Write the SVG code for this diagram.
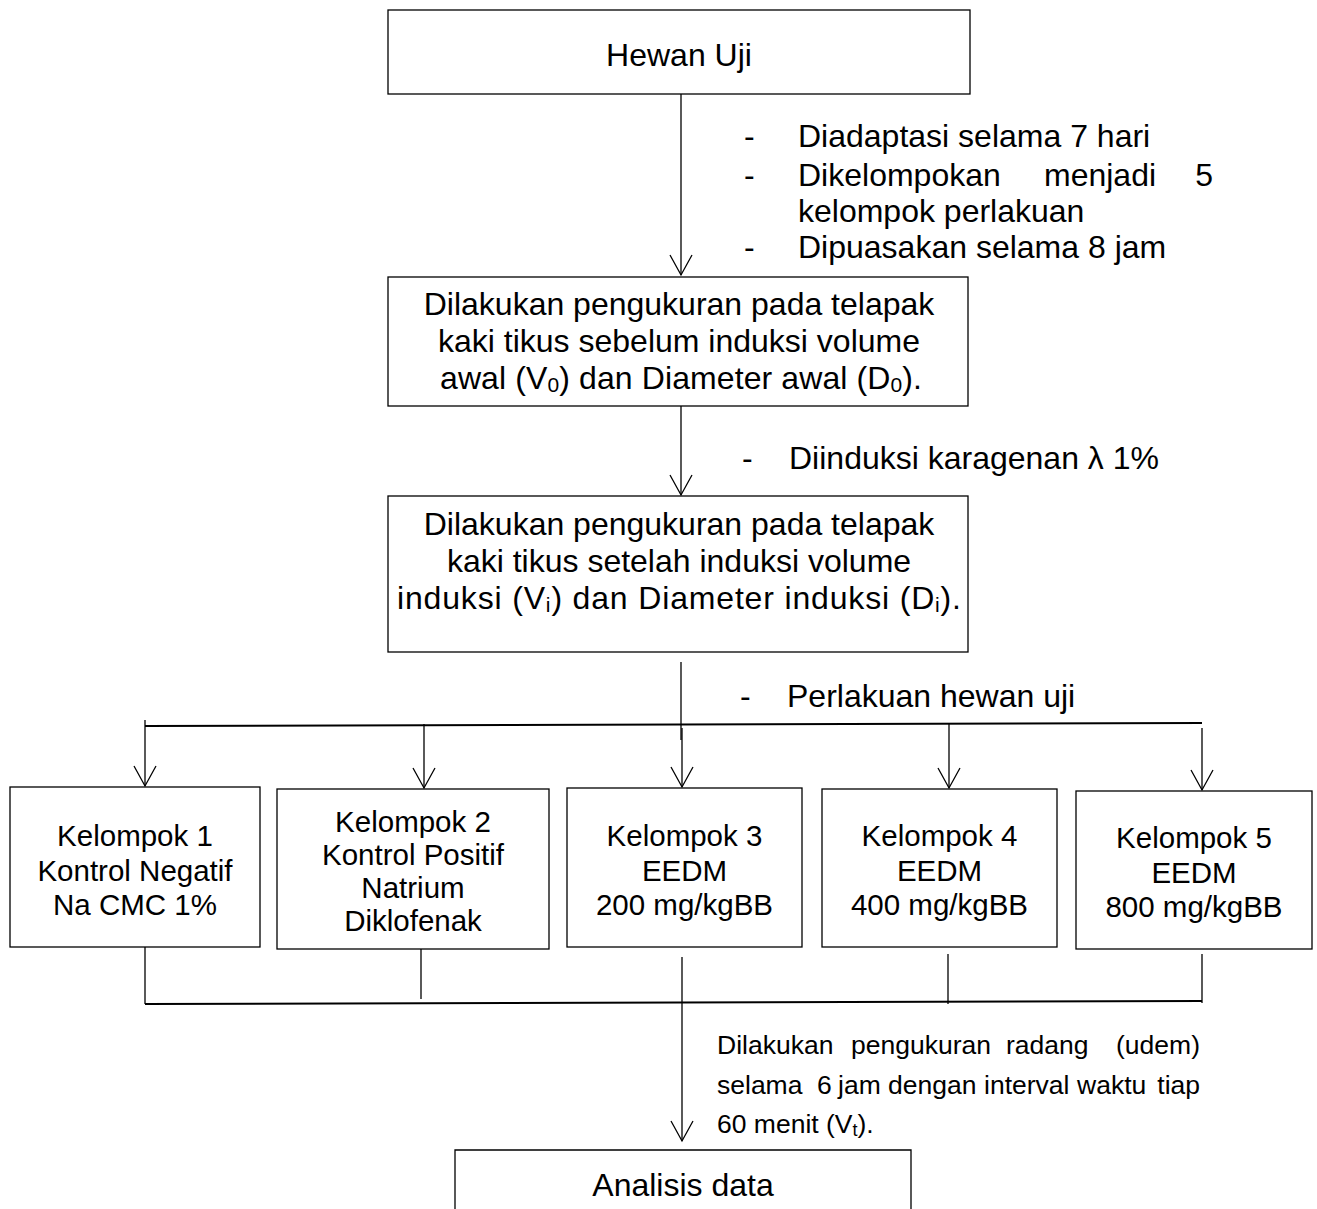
<svg xmlns="http://www.w3.org/2000/svg" width="1317" height="1209" viewBox="0 0 1317 1209">
<style>
  text { font-family: "Liberation Sans", Arial, sans-serif; fill: #000; }
  .t { font-size: 32px; }
  .g { font-size: 29.5px; }
  .p { font-size: 26.5px; }
  .c { text-anchor: middle; }
  .box { fill: #fff; stroke: #000; stroke-width: 1.3; }
  .ln { fill: none; stroke: #000; stroke-width: 1.3; }
  .hb { fill: none; stroke: #000; stroke-width: 2; }
  .arr { fill: none; stroke: #000; stroke-width: 1.3; marker-end: url(#ah); }
</style>
<defs>
  <marker id="ah" markerUnits="userSpaceOnUse" viewBox="-22 -13 24 26" refX="0" refY="0" markerWidth="24" markerHeight="26" orient="auto">
    <path d="M-20,-11 L0,0 L-20,11" fill="none" stroke="#000" stroke-width="1.3"/>
  </marker>
</defs>
<rect width="1317" height="1209" fill="#fff"/>

<g id="connectors">
  <line class="arr" x1="681" y1="94" x2="681" y2="275"/>
  <line class="arr" x1="681" y1="406" x2="681" y2="495"/>
  <line class="ln" x1="681" y1="662" x2="681" y2="740"/>
  <line class="arr" x1="682" y1="728" x2="682" y2="787"/>
  <line class="hb" x1="145" y1="726" x2="1202" y2="723"/>
  <line class="arr" x1="145" y1="720" x2="145" y2="786"/>
  <line class="arr" x1="424" y1="724" x2="424" y2="788"/>
  <line class="arr" x1="949" y1="724" x2="949" y2="788"/>
  <line class="arr" x1="1202" y1="728" x2="1202" y2="790"/>
  <line class="ln" x1="145" y1="947" x2="145" y2="1004"/>
  <line class="ln" x1="421" y1="949" x2="421" y2="999"/>
  <line class="ln" x1="948" y1="954" x2="948" y2="1004"/>
  <line class="ln" x1="1202" y1="954" x2="1202" y2="1003"/>
  <line class="hb" x1="145" y1="1004" x2="1202" y2="1001"/>
  <line class="arr" x1="682" y1="957" x2="682" y2="1141"/>
</g>

<g id="label-adaptasi">
  <text class="t" x="744" y="147">-</text>
  <text class="t" x="798" y="147">Diadaptasi selama 7 hari</text>
  <text class="t" x="744" y="186">-</text>
  <text class="t" y="186"><tspan x="798">Dikelompokan</tspan><tspan x="1044">menjadi</tspan><tspan x="1213" text-anchor="end">5</tspan></text>
  <text class="t" x="798" y="222">kelompok perlakuan</text>
  <text class="t" x="744" y="258">-</text>
  <text class="t" x="798" y="258">Dipuasakan selama 8 jam</text>
</g>

<g id="label-induksi">
  <text class="t" x="742" y="469">-</text>
  <text class="t" x="789" y="469">Diinduksi karagenan λ 1%</text>
</g>

<g id="label-perlakuan">
  <text class="t" x="740" y="707">-</text>
  <text class="t" x="787" y="707">Perlakuan hewan uji</text>
</g>

<g id="label-pengukuran">
  <text class="p" y="1054"><tspan x="717">Dilakukan</tspan><tspan x="851">pengukuran</tspan><tspan x="1006">radang</tspan><tspan x="1200" text-anchor="end">(udem)</tspan></text>
  <text class="p" y="1094"><tspan x="717">selama</tspan><tspan x="817">6</tspan><tspan x="838">jam</tspan><tspan x="888">dengan</tspan><tspan x="984">interval</tspan><tspan x="1077">waktu</tspan><tspan x="1200" text-anchor="end">tiap</tspan></text>
  <text class="p" x="717" y="1133">60 menit (V<tspan font-size="18" baseline-shift="-3">t</tspan>).</text>
</g>

<g id="node-hewan-uji">
  <rect class="box" x="388" y="10" width="582" height="84"/>
  <text class="t c" x="679" y="66">Hewan Uji</text>
</g>

<g id="node-sebelum">
  <rect class="box" x="388" y="277" width="580" height="129"/>
  <text class="t c" x="679" y="315">Dilakukan pengukuran pada telapak</text>
  <text class="t c" x="679" y="352">kaki tikus sebelum induksi volume</text>
  <text class="t c" x="681" y="389" textLength="482" lengthAdjust="spacing">awal (V<tspan font-size="21" baseline-shift="-3">0</tspan>) dan Diameter awal (D<tspan font-size="21" baseline-shift="-3">0</tspan>).</text>
</g>

<g id="node-setelah">
  <rect class="box" x="388" y="496" width="580" height="156"/>
  <text class="t c" x="679" y="535">Dilakukan pengukuran pada telapak</text>
  <text class="t c" x="679" y="572">kaki tikus setelah induksi volume</text>
  <text class="t c" x="679" y="609" textLength="564" lengthAdjust="spacing">induksi (V<tspan font-size="21" baseline-shift="-3">i</tspan>) dan Diameter induksi (D<tspan font-size="21" baseline-shift="-3">i</tspan>).</text>
</g>

<g id="node-kelompok1">
  <rect class="box" x="10" y="787" width="250" height="160"/>
  <text class="g c" x="135" y="846">Kelompok 1</text>
  <text class="g c" x="135" y="881">Kontrol Negatif</text>
  <text class="g c" x="135" y="915">Na CMC 1%</text>
</g>

<g id="node-kelompok2">
  <rect class="box" x="277" y="789" width="272" height="160"/>
  <text class="g c" x="413" y="832">Kelompok 2</text>
  <text class="g c" x="413" y="865">Kontrol Positif</text>
  <text class="g c" x="413" y="898">Natrium</text>
  <text class="g c" x="413" y="931">Diklofenak</text>
</g>

<g id="node-kelompok3">
  <rect class="box" x="567" y="788" width="235" height="159"/>
  <text class="g c" x="684.5" y="846">Kelompok 3</text>
  <text class="g c" x="684.5" y="881">EEDM</text>
  <text class="g c" x="684.5" y="915">200 mg/kgBB</text>
</g>

<g id="node-kelompok4">
  <rect class="box" x="822" y="789" width="235" height="158"/>
  <text class="g c" x="939.5" y="846">Kelompok 4</text>
  <text class="g c" x="939.5" y="881">EEDM</text>
  <text class="g c" x="939.5" y="915">400 mg/kgBB</text>
</g>

<g id="node-kelompok5">
  <rect class="box" x="1076" y="791" width="236" height="158"/>
  <text class="g c" x="1194" y="848">Kelompok 5</text>
  <text class="g c" x="1194" y="883">EEDM</text>
  <text class="g c" x="1194" y="917">800 mg/kgBB</text>
</g>

<g id="node-analisis">
  <path class="box" d="M455,1212 V1150 H911 V1212"/>
  <text class="t c" x="683" y="1196">Analisis data</text>
</g>
</svg>
